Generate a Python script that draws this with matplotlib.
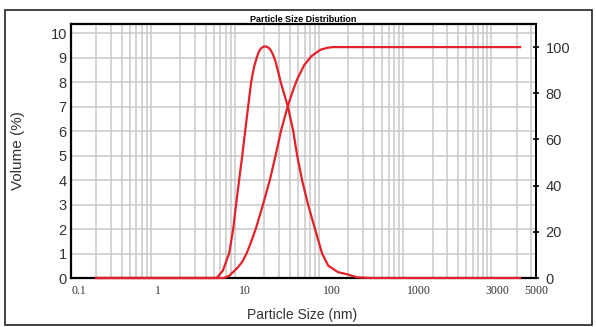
import numpy as np
import matplotlib
matplotlib.use("Agg")
import matplotlib.pyplot as plt
from matplotlib.ticker import LogLocator, NullFormatter, FixedLocator, FixedFormatter
from matplotlib.patches import Rectangle

# ---- data ----
dist_size = [0.2, 5.4, 6.4, 7.6, 8.5, 9.2, 10.0, 10.9, 11.8, 12.8, 13.9, 15.0, 16.2,
             17.2, 18.3, 19.6, 21.0, 22.4, 23.8, 25.4, 27.0, 29.0, 31.2, 38, 44, 49,
             56, 66, 80, 97, 115, 150, 193, 251, 360, 22000]
dist_vol = [0, 0, 0.3, 1.0, 2.0, 3.0, 4.0, 5.0, 6.0, 7.0, 8.0, 8.6, 9.0,
            9.25, 9.38, 9.45, 9.45, 9.4, 9.3, 9.1, 8.85, 8.45, 8.0, 7.0, 6.0, 5.0,
            4.0, 3.0, 2.0, 1.0, 0.5, 0.24, 0.15, 0.03, 0, 0]

cum_size = [0.2, 6.6, 7.6, 8.5, 9.6, 10.9, 12.4, 14.0, 15.9, 19.3, 23.4, 27.5, 31.6,
            38.3, 44, 49, 59, 72, 92, 112, 131, 22000]
cum_vol = [0, 0, 1.0, 2.6, 4.5, 7.0, 11.0, 16.0, 21.7, 32, 43, 54, 64,
           75, 81.5, 86, 92, 96, 98.8, 99.7, 100, 100]

x_tick_pos = [0.1, 1, 10, 100, 1000, 8500, 24700]
x_tick_labels = ["0.1", "1", "10", "100", "1000", "3000", "5000"]
left_ticks = list(range(0, 11))
right_ticks = [0, 20, 40, 60, 80, 100]

RED = "#e3212b"
SANS = ["Liberation Sans", "DejaVu Sans"]
W, H = 596, 327
fig = plt.figure(figsize=(W / 100, H / 100), dpi=100)
fig.patch.set_facecolor("white")

ax = fig.add_axes([71 / W, 1 - 278 / H, (536 - 71) / W, (278 - 24) / H])
ax.set_xscale("log")
ax.set_xlim(0.1, 34000)
ax.set_ylim(0, 10.37)

ax.xaxis.set_major_locator(FixedLocator(x_tick_pos))
ax.xaxis.set_major_formatter(FixedFormatter(x_tick_labels))
ax.xaxis.set_minor_locator(LogLocator(base=10, subs=np.arange(1, 10), numticks=60))
ax.xaxis.set_minor_formatter(NullFormatter())
ax.set_yticks(left_ticks)

gridc = "#c9c9c9"
ax.grid(True, which="major", axis="y", color=gridc, lw=1.1)
ax.grid(True, which="minor", axis="x", color=gridc, lw=1.1)
ax.set_axisbelow(True)

ax.tick_params(axis="x", which="both", length=0, pad=5)
ax.tick_params(axis="y", which="both", length=0, pad=3)
for lab in ax.get_xticklabels():
    lab.set_fontfamily(["Liberation Serif", "DejaVu Serif"])
    lab.set_fontsize(8.5)
    lab.set_color("#333333")
    lab.set_ha("left")
for lab in ax.get_yticklabels():
    lab.set_fontfamily(SANS)
    lab.set_fontsize(10.5)
    lab.set_color("#333333")

for s in ["left", "bottom", "top"]:
    ax.spines[s].set_linewidth(1.6)
    ax.spines[s].set_color("black")
ax.spines["right"].set_linewidth(1.3)

ax.plot(dist_size, dist_vol, color=RED, lw=1.6, zorder=4, clip_on=False,
        solid_joinstyle="round")

ax2 = ax.twinx()
ax2.set_ylim(0, 110)
ax2.set_yticks(right_ticks)
ax2.tick_params(axis="y", direction="inout", length=5, width=1.2, pad=4.5)
for lab in ax2.get_yticklabels():
    lab.set_fontfamily(SANS)
    lab.set_fontsize(10.5)
    lab.set_color("#333333")
for s in ["left", "bottom", "top"]:
    ax2.spines[s].set_visible(False)
ax2.spines["right"].set_linewidth(1.3)
ax2.plot(cum_size, cum_vol, color=RED, lw=1.6, zorder=4, clip_on=False,
         solid_joinstyle="round")

ax.set_title("Particle Size Distribution", fontsize=6.5, fontweight="bold",
             pad=1, family=SANS)

fig.text(18 / W, 1 - 151 / H, "Volume (%)", rotation=90, ha="center", va="center",
         fontsize=11, color="#333333", family=SANS)
fig.text(302 / W, 1 - 315 / H, "Particle Size (nm)", ha="center", va="center",
         fontsize=10, color="#333333", family=SANS)

fig.patches.append(Rectangle((5 / W, 1 - 325 / H), (592 - 5) / W, (325 - 10) / H,
                             transform=fig.transFigure, fill=False, lw=1.2,
                             edgecolor="#222222"))

fig.savefig("out.png", dpi=100)
